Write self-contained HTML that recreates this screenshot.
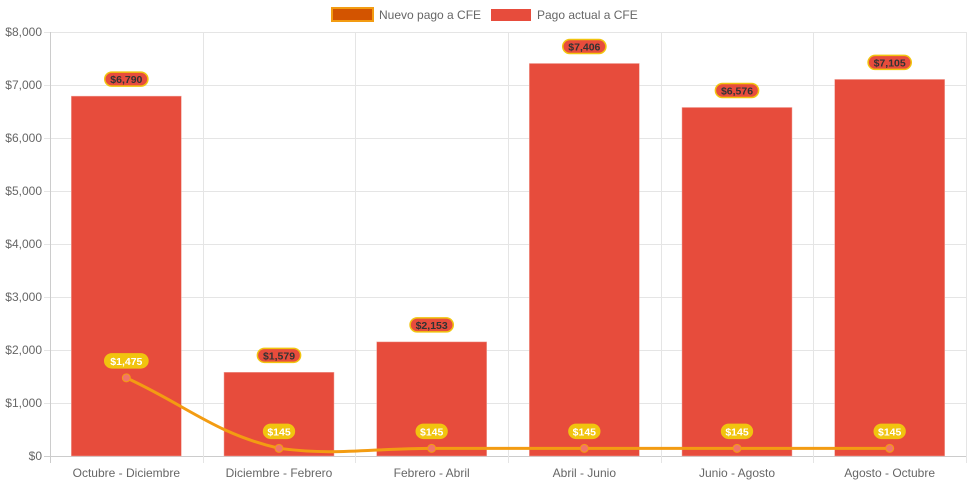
<!DOCTYPE html>
<html><head><meta charset="utf-8"><style>
body{margin:0;background:#fff;font-family:"Liberation Sans",Arial,sans-serif}
svg text{font-family:"Liberation Sans",Arial,sans-serif}
</style></head><body>
<svg id="c" width="971" height="485" xmlns="http://www.w3.org/2000/svg">
<g>
<g>
<rect x="332" y="8" width="41" height="13" fill="#d35400" stroke="#f39c12" stroke-width="2"/>
<text x="379" y="19" font-size="12" fill="#666">Nuevo pago a CFE</text></g>
<g>
<rect x="491" y="9" width="40" height="12" fill="#e74c3c"/>
<text x="537" y="19" font-size="12" fill="#666">Pago actual a CFE</text></g>
</g>
<g id="grid"></g>
<g id="bars"></g>
<g id="line"></g>
<g id="labels"></g>
</svg>
<script>
const categories=["Octubre - Diciembre","Diciembre - Febrero","Febrero - Abril","Abril - Junio","Junio - Agosto","Agosto - Octubre"];
const actualValues=[6790,1579,2153,7406,6576,7105];
const nuevoValues=[1475,145,145,145,145,145];
const yTicks=[0,1000,2000,3000,4000,5000,6000,7000,8000];
const NS="http://www.w3.org/2000/svg";
const L=50,R=966,T=32,B=456,YMAX=8000;
const bw=(R-L)/categories.length;
function x(i){return L+bw*(i+0.5);}
function y(v){return B-(v/YMAX)*(B-T);}
function mk(tag,attrs,parent,txt){const e=document.createElementNS(NS,tag);for(const k in attrs)e.setAttribute(k,attrs[k]);if(txt!==undefined)e.textContent=txt;parent.appendChild(e);return e;}
function fmt(v){return "$"+v.toLocaleString("en-US");}
const g=document.getElementById("grid");
yTicks.forEach(t=>{
 const ln=mk("line",{x1:L-6,x2:R,y1:y(t)+0.5,y2:y(t)+0.5,stroke:t===0?"#ccc":"#e5e5e5"},g);
 
 
 const tx=mk("text",{x:L-8,y:y(t)+4,"text-anchor":"end","font-size":"12",fill:"#666"},g,fmt(t));
 
 
});
for(let i=0;i<=categories.length;i++){
 const xx=Math.round(L+bw*i)+0.5;
 const ln=mk("line",{x1:xx,x2:xx,y1:T,y2:B+7,stroke:i===0?"#ccc":"#e5e5e5"},g);
 
 
}
categories.forEach((c,i)=>{
 const tx=mk("text",{x:x(i),y:B+21,"text-anchor":"middle","font-size":"12",fill:"#666"},g,c);
 
 
});
const bars=document.getElementById("bars"),lab=document.getElementById("labels");
function badge(cx,cy,text,fill,stroke,col){
 const w=text.length*6.2+6;
 const gg=mk("g",{},lab);
 
 
 mk("rect",{x:cx-w/2,y:cy-7,width:w,height:14,rx:7,fill:fill,stroke:stroke,"stroke-width":1.5},gg);
 mk("text",{x:cx,y:cy+4,"text-anchor":"middle","font-size":"10.5","font-weight":"bold",fill:col},gg,text);
}
actualValues.forEach((v,i)=>{
 const r=mk("rect",{x:x(i)-55,y:y(v),width:110,height:B-y(v),fill:"#e74c3c",stroke:"#f0a8a0","stroke-width":0.5},bars);
 
 
 badge(x(i),y(v)-17,fmt(v),"#e74c3c","#f1c40f","#333");
});
// line with Chart.js-like spline tension 0.4
const pts=nuevoValues.map((v,i)=>[x(i),y(v)]);
const t=0.4;let d="M"+pts[0][0]+","+pts[0][1];
function cps(p0,p1,p2){const d01=Math.hypot(p1[0]-p0[0],p1[1]-p0[1]),d12=Math.hypot(p2[0]-p1[0],p2[1]-p1[1]);let fa=d01/(d01+d12)||0,fb=d12/(d01+d12)||0;fa*=t;fb*=t;return[[p1[0]-fa*(p2[0]-p0[0]),p1[1]-fa*(p2[1]-p0[1])],[p1[0]+fb*(p2[0]-p0[0]),p1[1]+fb*(p2[1]-p0[1])]];}
const c=pts.map((p,i)=>cps(pts[Math.max(0,i-1)],p,pts[Math.min(pts.length-1,i+1)]));
for(let i=1;i<pts.length;i++){const a=c[i-1][1],b=c[i][0];d+=` C${a[0]},${Math.min(a[1],B)} ${b[0]},${Math.min(b[1],B)} ${pts[i][0]},${pts[i][1]}`;}
const ln=document.getElementById("line");
const path=mk("path",{d:d,fill:"none",stroke:"#f39c12","stroke-width":3},ln);


pts.forEach((p,i)=>{
 const cc=mk("circle",{cx:p[0],cy:p[1],r:4,fill:"#f1746a",stroke:"#f39c12","stroke-width":1},ln);
 
 
 badge(p[0],p[1]-17,fmt(nuevoValues[i]),"#f1c40f","#f1c40f","#fff");
});
</script>
</body></html>
